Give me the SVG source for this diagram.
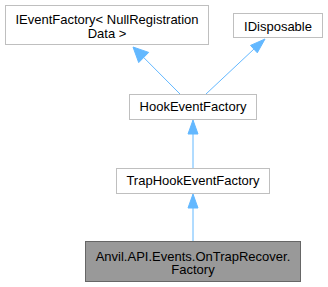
<svg xmlns="http://www.w3.org/2000/svg" width="328" height="287" viewBox="0 0 328 287">
<style>
  .node rect { fill: #ffffff; stroke: #bfbfbf; stroke-width: 1; }
  .node.current rect { fill: #999999; stroke: #666666; }
  .node text { font-family: "Liberation Sans", Arial, sans-serif; font-size: 13px; fill: #000000; text-anchor: middle; }
  .edge { stroke: #63b8ff; stroke-width: 1; fill: none; }
  .head { fill: #63b8ff; stroke: #63b8ff; stroke-width: 1; }
</style>
<rect width="328" height="287" fill="#ffffff"/>
<g id="connectors">
  <!-- HookEventFactory -> IEventFactory -->
  <path class="edge" d="M180,94 L143.7,57.5"/>
  <polygon class="head" points="133,47 148.7,52.4 138.7,62.6"/>
  <!-- HookEventFactory -> IDisposable -->
  <path class="edge" d="M206,94 L253.9,49.1"/>
  <polygon class="head" points="265,39 257.3,52.8 250.5,45.4"/>
  <!-- TrapHookEventFactory -> HookEventFactory -->
  <path class="edge" d="M193,168 L193,134"/>
  <polygon class="head" points="193,120 198,134 188,134"/>
  <!-- Factory -> TrapHookEventFactory -->
  <path class="edge" d="M193,241 L193,208"/>
  <polygon class="head" points="193,194 198,208 188,208"/>
</g>
<g id="node-ieventfactory" class="node">
  <rect x="5.5" y="5.5" width="203" height="39"/>
  <text x="107" y="24">IEventFactory&lt; NullRegistration</text>
  <text x="107" y="37.5">Data &gt;</text>
</g>
<g id="node-idisposable" class="node">
  <rect x="233.5" y="13.5" width="89" height="24"/>
  <text x="278" y="30.5">IDisposable</text>
</g>
<g id="node-hookeventfactory" class="node">
  <rect x="129.5" y="94.5" width="127" height="25"/>
  <text x="193" y="111">HookEventFactory</text>
</g>
<g id="node-traphookeventfactory" class="node">
  <rect x="116.5" y="168.5" width="153" height="25"/>
  <text x="193" y="185">TrapHookEventFactory</text>
</g>
<g id="node-factory" class="node current">
  <rect x="85.5" y="241.5" width="215" height="40"/>
  <text x="193" y="260.5">Anvil.API.Events.OnTrapRecover.</text>
  <text x="193" y="274">Factory</text>
</g>
</svg>
